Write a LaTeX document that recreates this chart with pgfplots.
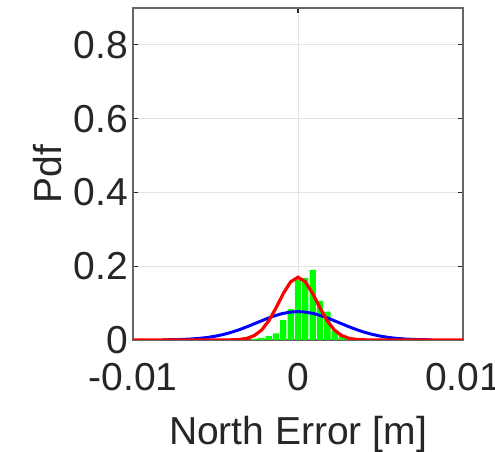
\documentclass[border=0pt]{standalone}
\usepackage{pgfplots}
\pgfplotsset{compat=1.18}
\usepackage{fontspec}
\setmainfont{Liberation Sans}
\definecolor{txt}{rgb}{0.15,0.15,0.15}
\definecolor{frame}{rgb}{0.4,0.4,0.4}
\begin{document}
\begin{tikzpicture}
\begin{axis}[
  scale only axis,
  width=165pt, height=166pt,
  xmin=-0.01, xmax=0.01, ymin=0, ymax=0.9,
  scaled x ticks=false, scaled y ticks=false,
  xtick={-0.01,0,0.01}, xticklabels={-0.01,0,0.01},
  ytick={0,0.2,0.4,0.6,0.8}, yticklabels={0,0.2,0.4,0.6,0.8},
  /pgf/number format/assume math mode=true,
  tick align=inside, major tick length=2.5pt,
  every tick/.style={draw=txt, line width=0.6pt},
  axis line style={draw=frame, line width=0.7pt},
  grid=major, major grid style={draw=gray!22, line width=0.5pt},
  ticklabel style={font=\fontsize{19.5}{23}\selectfont, text=txt},
  label style={font=\fontsize{19.5}{23}\selectfont, text=txt},
  xticklabel style={yshift=-8pt},
  yticklabel style={xshift=1pt},
  xlabel={North Error [m]}, ylabel={Pdf},
  xlabel style={yshift=-6pt},
  ylabel style={yshift=-1pt},
]
\addplot[ybar, bar width=0.00038, bar shift=0pt, fill={rgb,1:red,0;green,1;blue,0}, draw=none] coordinates {
 (-0.0096,0.003)
 (-0.00266,0.003)
 (-0.00222,0.006)
 (-0.00178,0.011)
 (-0.00133,0.018)
 (-0.00089,0.054)
 (-0.00044,0.084)
 (0.0,0.163)
 (0.00044,0.168)
 (0.00089,0.190)
 (0.00133,0.106)
 (0.00178,0.077)
 (0.00222,0.026)
 (0.00266,0.013)
 (0.00311,0.004)
};
\addplot[blue, line width=1.5pt] coordinates {
 (-0.0082,0.0004) (-0.0075,0.0009) (-0.007,0.0015) (-0.0065,0.0026) (-0.006,0.0043)
 (-0.0055,0.0068) (-0.005,0.0104) (-0.0045,0.0152) (-0.004,0.0214) (-0.0035,0.0289)
 (-0.003,0.0375) (-0.0025,0.0467) (-0.002,0.0559) (-0.0015,0.0643) (-0.001,0.0711)
 (-0.0005,0.0755) (0,0.077) (0.0005,0.0755) (0.001,0.0711) (0.0015,0.0643)
 (0.002,0.0559) (0.0025,0.0467) (0.003,0.0375) (0.0035,0.0289) (0.004,0.0214)
 (0.0045,0.0152) (0.005,0.0104) (0.0055,0.0068) (0.006,0.0043) (0.0065,0.0026)
 (0.007,0.0015) (0.0075,0.0009) (0.0081,0.0004)
};
\addplot[red, line width=1.6pt] coordinates {
 (-0.01,0) (-0.006,0.0001) (-0.0044,0.0001) (-0.00396,0.0005) (-0.00352,0.0016)
 (-0.00308,0.0047) (-0.00264,0.0122) (-0.0022,0.0273) (-0.00176,0.0527)
 (-0.00132,0.0880) (-0.00088,0.1269) (-0.00044,0.158) (0,0.170)
 (0.00044,0.158) (0.00088,0.1269) (0.00132,0.0880) (0.00176,0.0527)
 (0.0022,0.0273) (0.00264,0.0122) (0.00308,0.0047) (0.00352,0.0016)
 (0.00396,0.0005) (0.0044,0.0001) (0.006,0.0001) (0.01,0)
};
\end{axis}
\pgfresetboundingbox
\path ([xshift=-66.5pt,yshift=-56pt]current axis.south west) rectangle ([xshift=16pt,yshift=4pt]current axis.north east);
\end{tikzpicture}
\end{document}
